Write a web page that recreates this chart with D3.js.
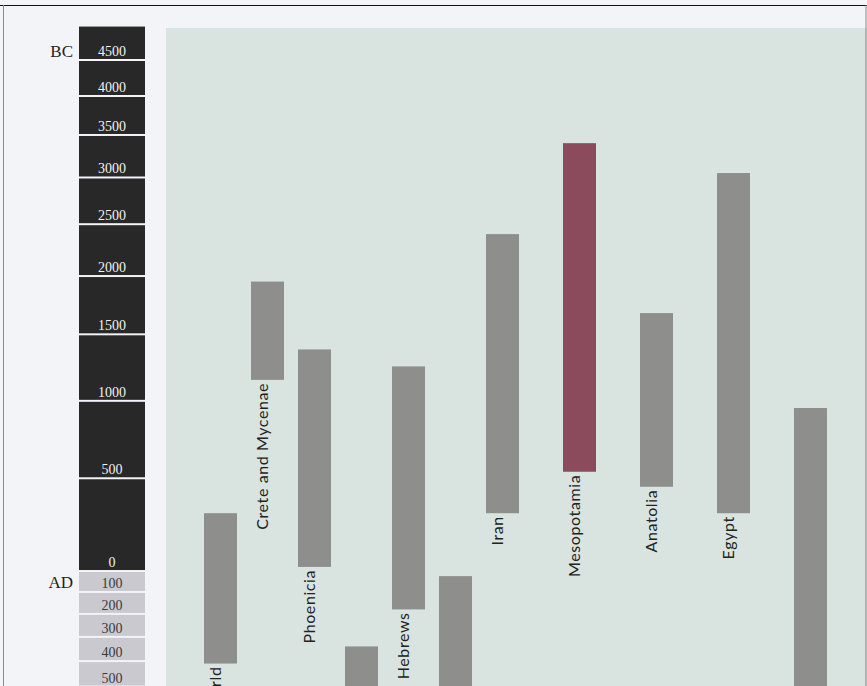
<!DOCTYPE html>
<html>
<head>
<meta charset="utf-8">
<script src="https://cdn.jsdelivr.net/npm/d3@7"></script>
<style>
  html, body { margin: 0; padding: 0; background: #f3f4f8; }
  svg { display: block; }
</style>
</head>
<body>
<div id="chart"></div>
<script>
// ---- data ----
const categories = ["Greco-Roman World", "Crete and Mycenae", "Phoenicia", "Byzantium", "Hebrews",
                    "Roman Empire", "Iran", "Mesopotamia", "Anatolia", "Egypt", "Arabia"];
const startYears = [-300, -1950, -1380, 340, -1250, 25, -2400, -3400, -1675, -3050, -950];
const endYears   = [410, -1150, -20, 1453, 180, 1453, -300, -539, -450, -300, 1000];
const highlighted = ["Mesopotamia"];
const bcTicks = [4500, 4000, 3500, 3000, 2500, 2000, 1500, 1000, 500, 0];
const adTicks = [100, 200, 300, 400, 500, 600];

// ---- layout ----
const W = 867, H = 686;
const EPOCH = 2300;               // log time scale: distance from this year
const svg = d3.select("#chart").append("svg").attr("width", W).attr("height", H);

const logScale = d3.scaleLog().domain([EPOCH + 4500, EPOCH - 0]).range([60, 571]);
const y = yr => logScale(EPOCH - yr);

const x = d3.scaleLinear().domain([0, 6, 10]).range([204, 486, 794]);
const barW = 33;

// page background
svg.append("rect").attr("width", W).attr("height", H).attr("fill", "#f3f4f8");
// plot background
svg.append("rect").attr("x", 166).attr("y", 28).attr("width", W - 166).attr("height", H - 28)
  .attr("fill", "#d9e4e1");

// frame lines
svg.append("line").attr("x1", 0).attr("x2", W).attr("y1", 5.5).attr("y2", 5.5)
  .attr("stroke", "#111").attr("stroke-width", 1.2);
svg.append("line").attr("x1", 3.5).attr("x2", 3.5).attr("y1", 5).attr("y2", H)
  .attr("stroke", "#888").attr("stroke-width", 1);
svg.append("line").attr("x1", W - 1).attr("x2", W - 1).attr("y1", 5).attr("y2", H)
  .attr("stroke", "#888").attr("stroke-width", 1);

// ---- time column ----
const colX = 79, colW = 66, colCx = colX + colW / 2;
const bcSegs = bcTicks.map(t => ({ from: -(t + 500), to: -t, label: String(t) }));
const adSegs = adTicks.map(t => ({ from: t - 100, to: t, label: String(t) }));

const axis = svg.append("g");
axis.selectAll("rect.bc").data(bcSegs).join("rect")
  .attr("class", "bc")
  .attr("x", colX).attr("width", colW)
  .attr("y", d => y(d.from) + (d.from === -5000 ? 0 : 1))
  .attr("height", d => y(d.to) - y(d.from) - (d.from === -5000 ? 1 : 2))
  .attr("fill", "#282828");
axis.selectAll("rect.ad").data(adSegs).join("rect")
  .attr("class", "ad")
  .attr("x", colX).attr("width", colW)
  .attr("y", d => y(d.from) + 1)
  .attr("height", d => y(d.to) - y(d.from) - 2)
  .attr("fill", "#c9c9cf");

axis.selectAll("text.bc").data(bcSegs).join("text")
  .attr("class", "bc")
  .attr("x", colCx).attr("y", d => y(d.to) - 4)
  .attr("text-anchor", "middle")
  .attr("font-family", "Liberation Serif, serif").attr("font-size", 14)
  .attr("fill", "#f2f2f2")
  .text(d => d.label);
axis.selectAll("text.ad").data(adSegs).join("text")
  .attr("class", "ad")
  .attr("x", colCx).attr("y", d => y(d.to) - 4)
  .attr("text-anchor", "middle")
  .attr("font-family", "Liberation Serif, serif").attr("font-size", 14)
  .attr("fill", "#3a3a3a")
  .text(d => d.label);

axis.append("text").attr("x", 73).attr("y", 57).attr("text-anchor", "end")
  .attr("font-family", "Liberation Serif, serif").attr("font-size", 17).attr("fill", "#222")
  .text("BC");
axis.append("text").attr("x", 73).attr("y", 588).attr("text-anchor", "end")
  .attr("font-family", "Liberation Serif, serif").attr("font-size", 17).attr("fill", "#222")
  .text("AD");

// ---- bars ----
const rows = categories.map((c, i) => ({ name: c, i, start: startYears[i], end: endYears[i] }));
const bars = svg.append("g");
bars.selectAll("rect").data(rows).join("rect")
  .attr("x", d => x(d.i)).attr("width", barW)
  .attr("y", d => y(d.start))
  .attr("height", d => y(d.end) - y(d.start))
  .attr("fill", d => highlighted.includes(d.name) ? "#8c4a5d" : "#8e8e8c");

bars.selectAll("text").data(rows).join("text")
  .attr("transform", d => `translate(${x(d.i) + 17},${y(d.end) + 3}) rotate(-90)`)
  .attr("text-anchor", "end")
  .attr("font-family", "Lato, sans-serif").attr("font-size", 16)
  .attr("letter-spacing", 0.6)
  .attr("fill", "#222")
  .text(d => d.name);
</script>
</body>
</html>
